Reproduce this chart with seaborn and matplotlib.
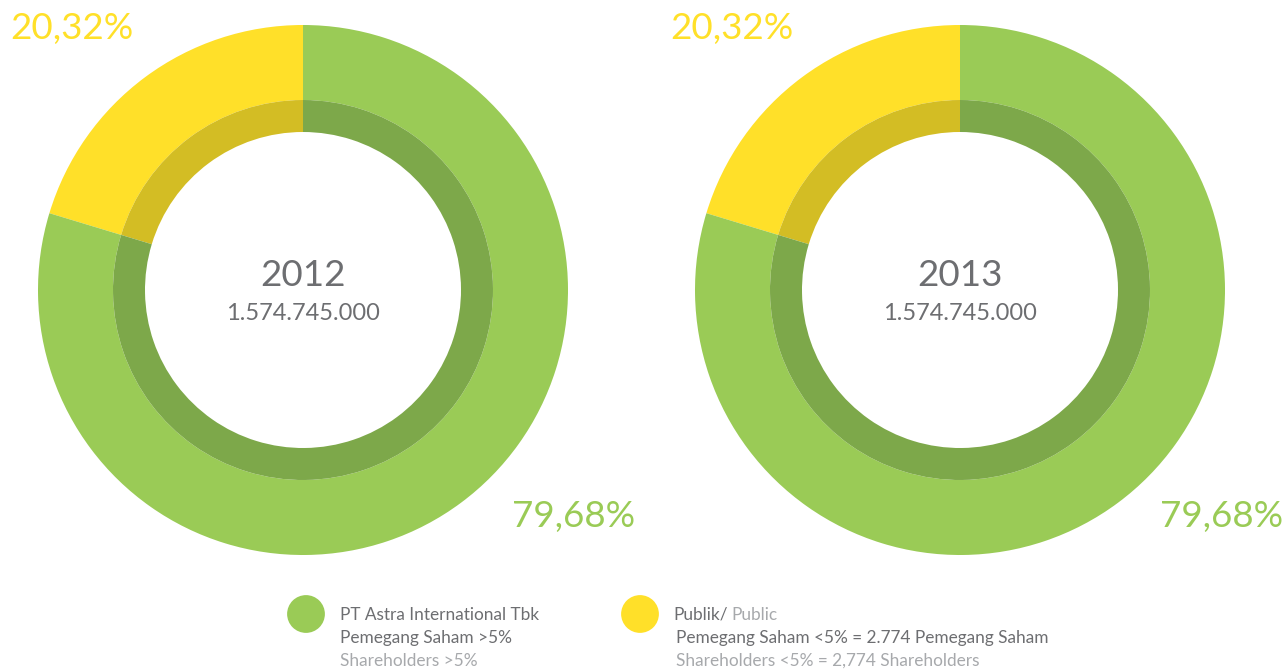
import numpy as np
import matplotlib.pyplot as plt
import seaborn as sns

# data
years = ["2012", "2013"]
totals = ["1.574.745.000", "1.574.745.000"]
shares = [20.32, 79.68]  # Publik, PT Astra
share_labels = ["20,32%", "79,68%"]

outer_colors = ["#FFE029", "#9ACB56"]
inner_colors = ["#D3BD24", "#7DA84A"]
gray = "#6D6E71"
light_gray = "#A7A9AC"

sns.set_theme(style="white")
plt.rcParams['font.family'] = ['Lato', 'DejaVu Sans']

fig = plt.figure(figsize=(12.88, 6.70), dpi=100)
ax = fig.add_axes([0, 0, 1, 1])

H = 670
centers = [(303, H - 290), (960, H - 290)]
label_pos = [[(10, 28), (512, 517)], [(670, 28), (1160, 517)]]

for i, (cx, cy) in enumerate(centers):
    ax.pie(shares, colors=outer_colors, radius=265, center=(cx, cy),
           startangle=90, counterclock=True, frame=True,
           wedgeprops=dict(width=75, linewidth=0))
    ax.pie(shares, colors=inner_colors, radius=190, center=(cx, cy),
           startangle=90, counterclock=True, frame=True,
           wedgeprops=dict(width=32, linewidth=0))
    ax.text(cx, H - 276, years[i], ha="center", va="center", fontsize=26.5, color=gray)
    ax.text(cx, H - 313, totals[i], ha="center", va="center", fontsize=17, color=gray)
    for j, (lx, ly) in enumerate(label_pos[i]):
        ax.text(lx, H - ly, share_labels[j], ha="left", va="center",
                fontsize=26.5, color=outer_colors[j])

ax.set_xlim(0, 1288)
ax.set_ylim(0, H)
ax.set_aspect("equal")
ax.axis("off")

# legend
fs = 12.4
ax.scatter([306, 640], [H - 614, H - 614], s=740, c=[outer_colors[1], outer_colors[0]],
           linewidths=0, zorder=3)
ax.text(340, H - 615, "PT Astra International Tbk", fontsize=fs, color=gray, va="center")
ax.text(340, H - 638, "Pemegang Saham >5%", fontsize=fs, color=gray, va="center")
ax.text(340, H - 661, "Shareholders >5%", fontsize=fs, color=light_gray, va="center")

t = ax.text(673, H - 615, "Publik/", fontsize=fs, color=gray, va="center")
fig.canvas.draw()
bb = t.get_window_extent()
ax.text(bb.x1 + 4, H - 615, "Public", fontsize=fs, color=light_gray, va="center")
ax.text(676, H - 638, "Pemegang Saham <5% = 2.774 Pemegang Saham", fontsize=fs,
        color=gray, va="center")
ax.text(676, H - 661, "Shareholders <5% = 2,774 Shareholders", fontsize=fs,
        color=light_gray, va="center")

plt.savefig("out.png", dpi=100)
